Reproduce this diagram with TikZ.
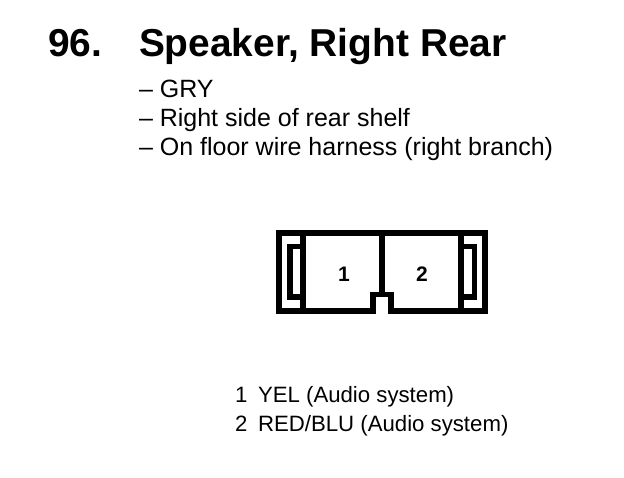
\documentclass[tikz,border=0pt]{standalone}
\usepackage{fontspec}
\setmainfont{Liberation Sans}
\tikzset{
 px/.style={x=1pt,y=-1pt},
 wall/.style={draw=black,line width=5.6pt,line join=miter},
 txt/.style={anchor=base west,inner sep=0pt,outer sep=0pt,font=\fontsize{25}{27}\selectfont},
 legend/.style={anchor=base west,inner sep=0pt,outer sep=0pt,font=\fontsize{22.2}{25}\selectfont},
 head/.style={anchor=base west,inner sep=0pt,outer sep=0pt,font=\fontsize{38.9}{42}\selectfont\bfseries},
 pin/.style={anchor=base,inner sep=0pt,outer sep=0pt,font=\fontsize{21}{23}\selectfont\bfseries}
}
\begin{document}
\begin{tikzpicture}[px]
\useasboundingbox[fill=white] (0,0) rectangle (624,478);
\node[head] (num) at (48,57) {96.};
\node[head] (title) at (139,57) {Speaker, Right Rear};
\node[txt] (l1) at (139,98) {– GRY};
\node[txt] (l2) at (139,127) {– Right side of rear shelf};
\node[txt] (l3) at (139,156) {– On floor wire harness (right branch)};
\draw[wall] (279,233) -- (485,233) -- (485,311) -- (391,311) -- (391,294.5) -- (373,294.5) -- (373,311) -- (279,311) -- cycle;
\draw[wall] (303,233) -- (303,311);
\draw[wall] (461,233) -- (461,311);
\draw[wall] (382,233) -- (382,294.5);
\draw[wall] (303,246.5) -- (290,246.5) -- (290,297) -- (303,297);
\draw[wall] (461,246.5) -- (474.5,246.5) -- (474.5,297) -- (461,297);
\node[pin] (p1) at (344,282) {1};
\node[pin] (p2) at (422,282) {2};
\node[legend] (a1) at (235,402) {1};
\node[legend] (a1t) at (258,402) {YEL (Audio system)};
\node[legend] (a2) at (235,431) {2};
\node[legend] (a2t) at (258,431) {RED/BLU (Audio system)};
\end{tikzpicture}
\end{document}
